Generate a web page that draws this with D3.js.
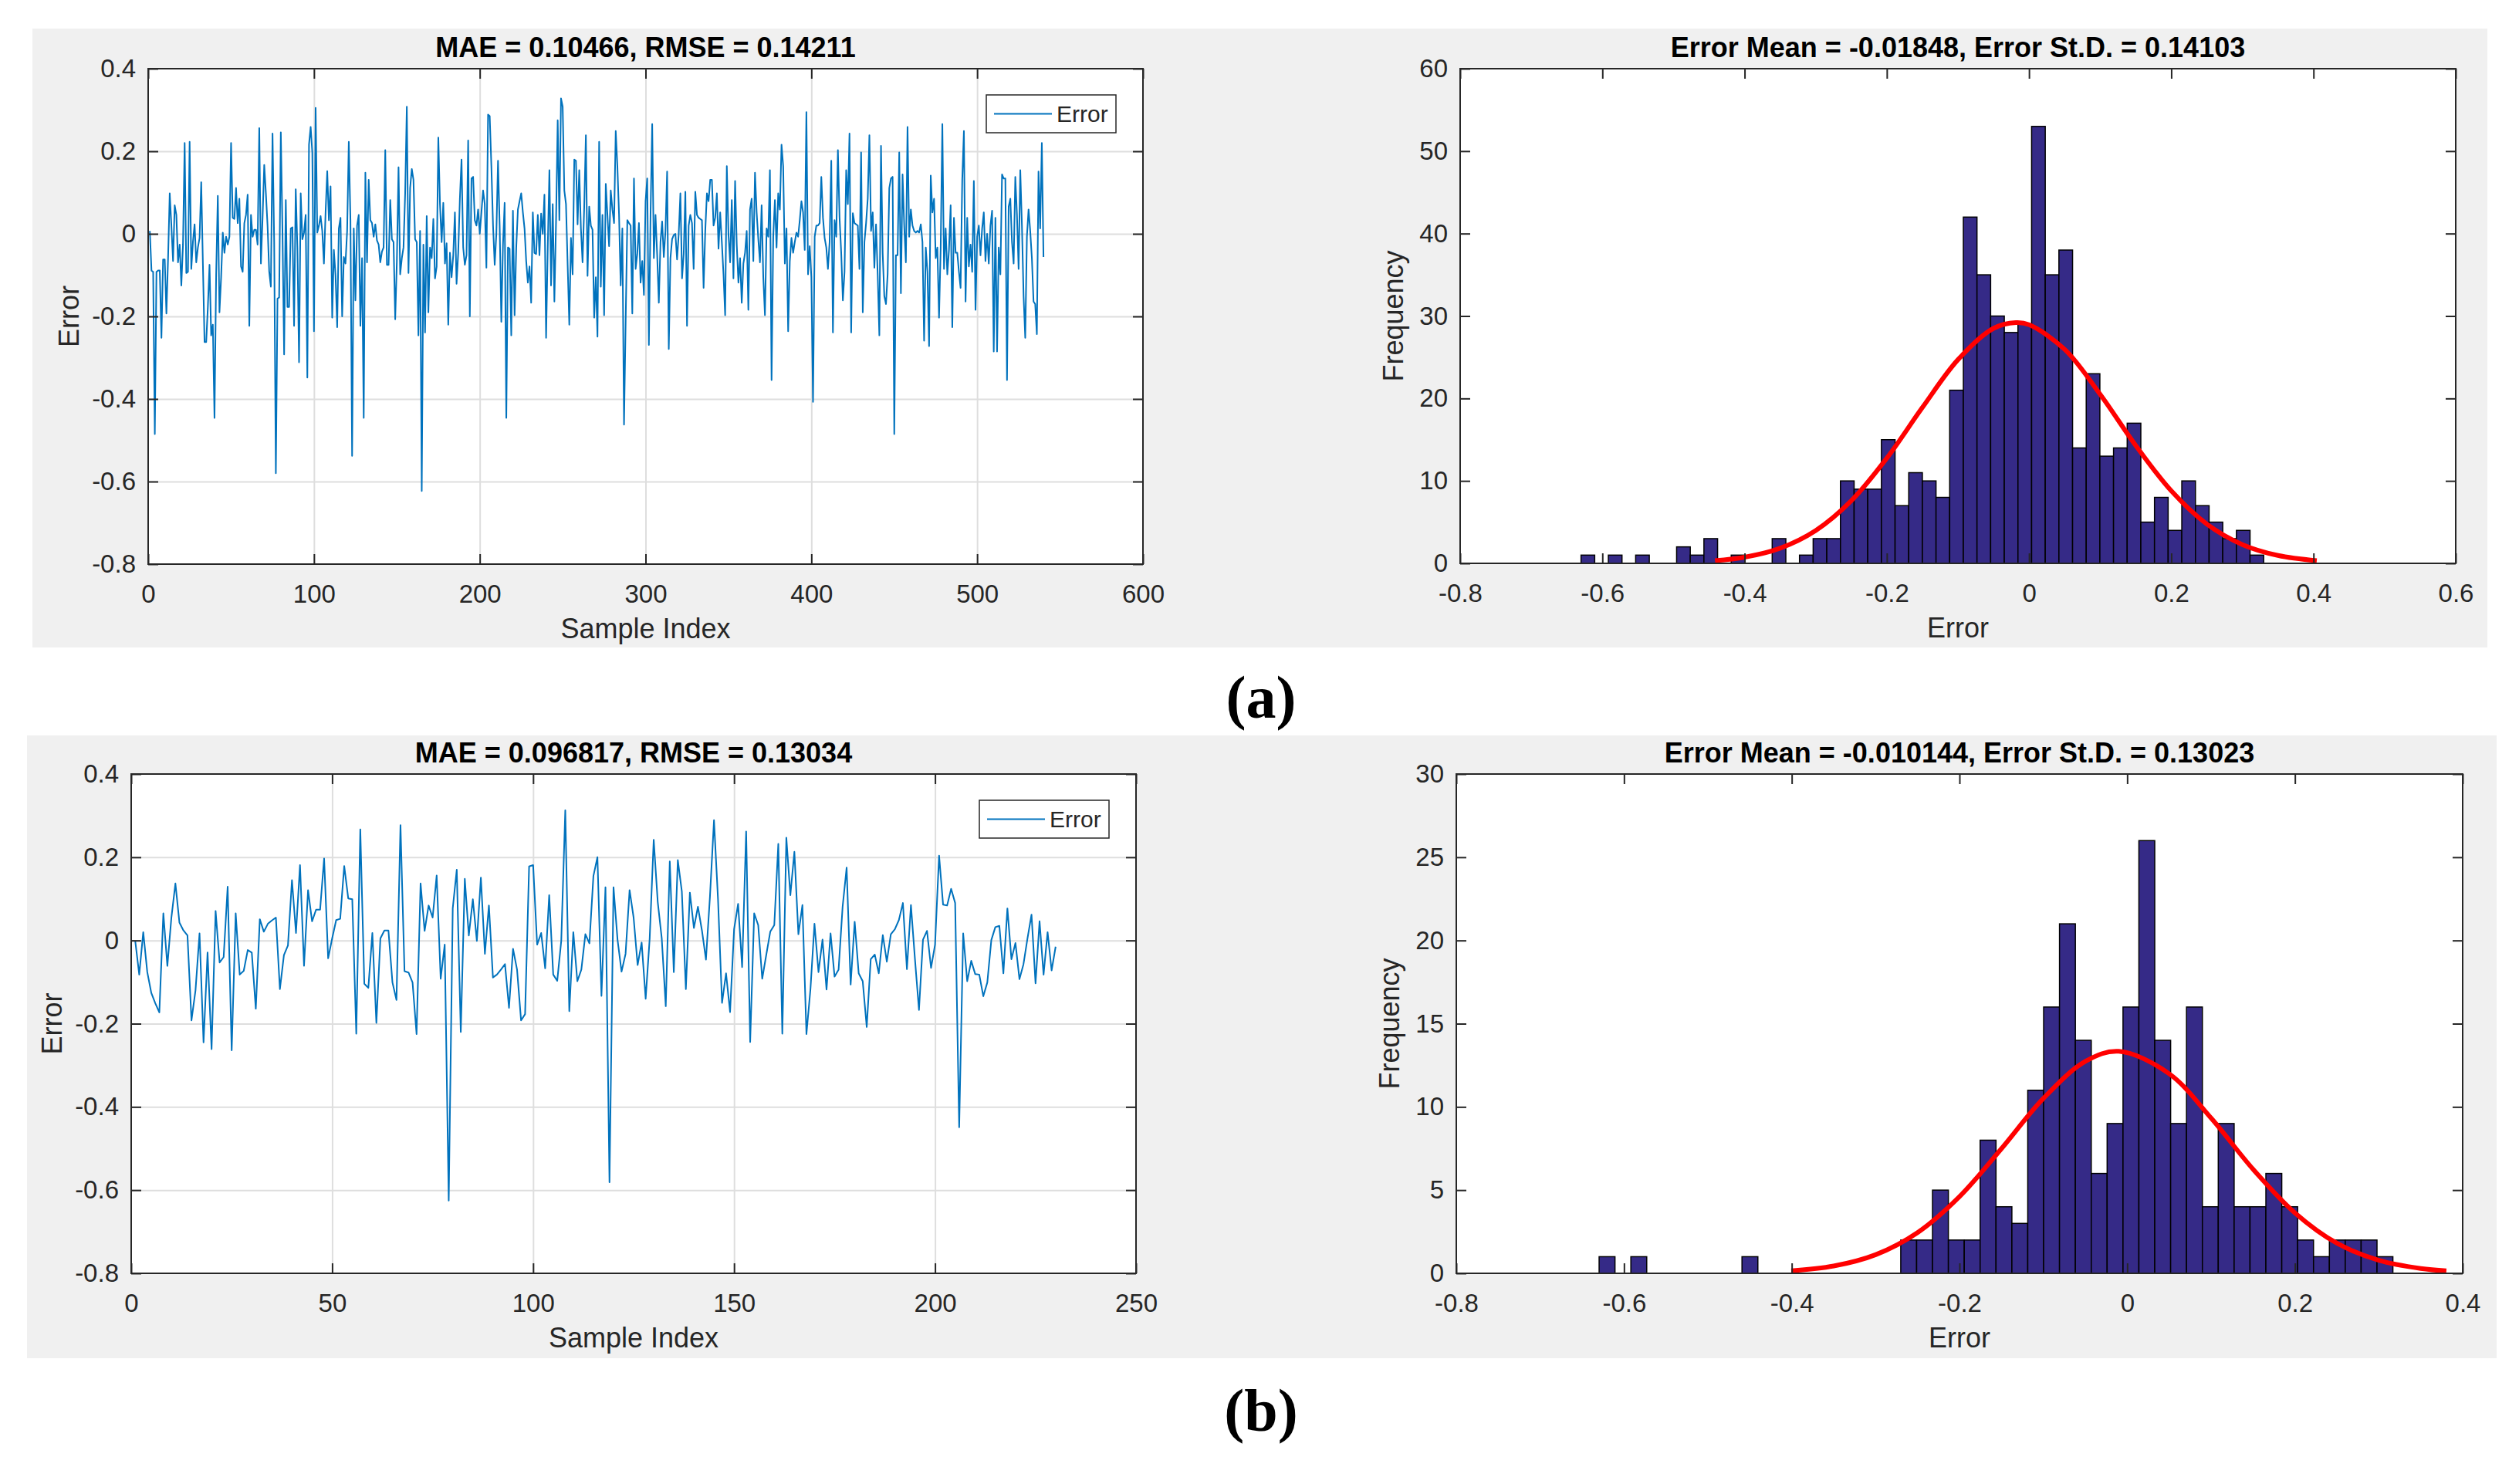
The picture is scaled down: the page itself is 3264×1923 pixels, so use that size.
<!DOCTYPE html>
<html>
<head>
<meta charset="utf-8">
<script src="https://cdn.jsdelivr.net/npm/d3@7"></script>
<style>
  body { margin: 0; background: #fff; }
  text { font-family: Arial, "Liberation Sans", Helvetica, sans-serif; }
  text.caption { font-family: "Liberation Serif", "DejaVu Serif", serif; font-weight: bold; }
</style>
</head>
<body>
<svg id="fig" width="3264" height="1923"></svg>
<script>
// ---- data ----
const errA = [
  0.007,-0.089,-0.092,-0.485,-0.092,-0.089,-0.089,-0.252,-0.062,-0.062,-0.193,-0.059,0.098,0.020,-0.066,0.069,0.046,-0.069,-0.026,-0.125,
  -0.026,0.220,-0.095,-0.092,0.223,-0.085,-0.020,0.023,-0.069,-0.033,-0.010,
  0.125,-0.072,-0.262,-0.262,-0.177,-0.075,-0.246,-0.220,-0.446,-0.098,0.092,-0.190,-0.105,0.003,-0.046,-0.007,-0.026,-0.007,0.220,0.039,
  0.036,0.111,0.026,0.085,-0.079,-0.092,0.026,0.046,0.095,-0.223,0.046,-0.007,0.010,0.010,-0.026,0.256,-0.072,0.039,0.167,0.098,0.020,
  -0.092,-0.128,0.243,-0.020,-0.580,-0.157,-0.154,0.246,0.007,-0.292,0.082,-0.177,-0.177,0.013,0.016,-0.223,0.108,-0.033,-0.311,0.098,
  -0.013,0.003,0.046,-0.348,0.216,0.259,0.197,-0.236,0.305,0.003,0.020,0.043,0.007,-0.072,0.052,0.152,0.033,0.115,-0.203,-0.039,-0.100,
  -0.226,0.013,0.039,-0.200,-0.056,-0.072,0.007,0.223,0.033,-0.538,0.013,-0.161,0.020,0.046,-0.223,-0.059,-0.446,0.148,-0.069,0.131,0.033,
  0.026,-0.007,0.023,-0.016,-0.026,-0.069,-0.043,-0.033,0.203,-0.075,-0.075,0.082,-0.013,-0.020,-0.207,-0.066,0.161,-0.098,-0.059,-0.033,
  0.098,0.308,-0.095,0.111,0.157,0.131,-0.013,-0.020,-0.246,0.007,-0.623,-0.026,-0.239,0.043,-0.190,-0.033,-0.059,0.036,-0.108,-0.079,
  0.233,0.072,-0.020,0.075,-0.072,-0.023,-0.220,-0.046,-0.105,-0.052,0.052,-0.121,-0.046,0.085,0.180,-0.033,-0.075,-0.052,0.226,-0.200,
  0.134,0.138,0.033,0.020,0.059,0.000,0.052,0.105,0.072,-0.082,0.289,0.285,0.164,0.020,-0.075,0.000,0.177,0.020,-0.213,-0.026,
  0.075,-0.446,-0.033,-0.036,-0.246,0.056,-0.197,-0.033,0.059,0.079,0.098,0.052,0.013,-0.066,-0.118,-0.079,-0.167,0.052,-0.046,-0.049,
  0.046,-0.052,0.049,0.000,0.095,-0.252,-0.033,0.154,-0.125,0.072,-0.164,0.030,0.275,0.033,0.328,0.308,0.105,0.072,-0.075,-0.220,
  -0.010,-0.098,0.180,0.177,0.023,0.154,0.013,-0.069,0.066,0.239,-0.102,0.066,0.020,0.010,-0.203,
  -0.105,-0.249,0.223,-0.128,0.046,-0.197,0.121,0.046,-0.030,0.105,0.059,0.026,0.249,0.164,0.046,-0.125,0.013,-0.462,-0.210,0.033,
  0.026,0.020,-0.193,0.134,-0.085,-0.049,0.026,-0.118,-0.066,-0.148,0.079,0.134,-0.269,0.046,0.266,-0.059,0.046,-0.052,-0.167,-0.020,
  0.030,-0.056,0.007,0.151,-0.279,-0.059,-0.013,-0.003,0.000,-0.062,0.000,0.098,-0.108,-0.049,0.102,-0.223,0.020,0.046,0.026,-0.085,
  0.102,0.046,0.039,0.036,0.033,-0.131,0.007,0.098,0.079,0.131,0.131,0.020,0.039,0.098,-0.036,0.052,-0.020,-0.098,-0.197,0.164,
  0.000,-0.069,0.082,-0.108,0.128,-0.026,-0.118,-0.059,-0.167,-0.072,-0.046,0.007,-0.184,0.059,0.085,-0.066,0.148,0.052,-0.013,-0.069,
  0.069,-0.105,-0.197,0.013,-0.007,0.154,-0.354,-0.007,0.082,-0.033,0.098,0.059,0.216,0.164,-0.072,0.013,-0.236,-0.066,-0.010,-0.046,
  -0.020,0.003,-0.007,0.033,0.079,0.052,-0.039,0.295,-0.098,-0.030,-0.105,-0.407,-0.007,0.020,
  0.020,0.026,0.138,0.039,-0.010,-0.033,-0.085,-0.020,0.177,-0.239,0.033,-0.007,0.203,0.039,-0.046,-0.161,-0.092,0.154,0.072,0.243,-0.239,0.050,
  0.026,0.023,0.020,-0.085,0.197,-0.190,-0.020,0.026,0.085,0.239,0.007,0.052,-0.082,0.023,-0.098,-0.246,0.213,-0.046,-0.151,-0.170,
  -0.098,0.111,0.134,0.138,-0.485,-0.052,-0.052,0.197,-0.144,0.144,0.020,-0.069,0.259,-0.007,0.059,0.020,0.007,0.003,0.007,0.003,0.023,
  -0.020,-0.259,-0.033,-0.092,-0.272,0.141,0.052,0.085,-0.059,-0.033,-0.203,-0.033,0.266,-0.085,0.013,-0.098,-0.039,0.069,-0.226,0.039,
  -0.046,-0.046,-0.092,-0.131,0.131,0.249,-0.164,0.039,-0.079,-0.026,-0.092,0.128,-0.184,-0.007,0.020,-0.052,0.013,0.052,-0.066,0.000,
  -0.072,0.020,0.056,-0.285,0.039,-0.285,-0.033,-0.098,0.144,0.134,0.134,-0.354,0.066,0.085,-0.020,-0.072,0.138,0.046,-0.085,0.154,
  0.020,-0.151,-0.252,-0.007,0.059,0.007,-0.059,-0.164,-0.170,-0.243,0.151,0.013,0.220,-0.056
];

const errB = [
  -0.001,-0.082,0.020,-0.076,-0.126,-0.151,-0.173,0.065,-0.061,0.055,0.137,0.043,0.024,0.012,-0.192,-0.120,0.017,-0.245,-0.029,-0.261,
  0.071,-0.053,-0.040,0.129,-0.264,0.065,-0.082,-0.073,-0.023,-0.029,-0.164,0.051,0.021,0.040,0.048,0.055,-0.117,-0.035,-0.012,0.145,
  0.018,0.181,-0.061,0.121,0.046,0.074,0.074,0.197,-0.043,0.005,0.049,0.052,0.179,0.101,0.099,-0.224,0.267,-0.104,-0.114,0.018,
  -0.198,0.005,0.024,0.024,-0.101,-0.143,0.277,-0.074,-0.077,-0.101,-0.225,0.137,0.023,0.084,0.055,0.156,-0.092,-0.010,-0.625,0.077,
  0.170,-0.220,0.148,0.012,0.099,-0.001,0.151,-0.032,0.084,-0.089,-0.082,-0.070,-0.057,-0.162,-0.020,-0.070,-0.192,-0.177,0.178,0.181,
  -0.010,0.018,-0.067,0.109,-0.082,-0.097,-0.001,0.313,-0.170,0.020,-0.098,-0.070,0.015,-0.007,0.155,0.200,
  -0.133,0.128,-0.581,0.128,0.002,-0.075,-0.032,0.121,0.055,-0.059,-0.005,-0.140,0.005,0.242,0.093,0.005,-0.158,0.190,-0.076,0.193,
  0.118,-0.117,0.115,0.030,0.081,0.024,-0.046,0.106,0.289,0.099,-0.150,-0.079,-0.172,0.027,0.088,-0.064,0.262,-0.244,0.065,0.037,
  -0.092,-0.035,0.021,0.037,0.232,-0.224,0.247,0.109,0.213,0.015,0.085,-0.225,-0.117,0.040,-0.076,0.002,-0.118,0.017,-0.087,-0.070,
  0.081,0.175,-0.106,0.045,-0.079,-0.098,-0.208,-0.045,-0.034,-0.079,0.013,-0.051,0.015,0.027,0.049,0.090,-0.069,0.085,-0.045,-0.167,
  0.002,0.023,-0.066,-0.010,0.204,0.086,0.084,0.124,0.090,-0.449,0.017,-0.098,-0.049,-0.081,-0.082,-0.134,-0.101,0.001,0.032,0.035,
  -0.079,0.077,-0.045,-0.006,-0.093,-0.057,0.005,0.062,-0.103,0.046,-0.082,0.020,-0.072,-0.015
];

// histogram bins (50 bins each)
const binStartA = -0.630, binWidthA = 0.0192;
const countsA = [1,0,1,0,1,0,0,2,1,3, 0,1,0,0,3,0,1,3,3,10, 9,9,15,7,11,10,8,21,42,35,
                 30,28,29,53,35,38,14,23,13,14, 17,5,8,4,10,7,5,3,4,1];
const binStartB = -0.6297, binWidthB = 0.01893;
const countsB = [1,0,1,0,0,0,0,0,0,1, 0,0,0,0,0,0,0,0,0,2, 2,5,2,2,8,4,3,11,16,21,
                 14,6,9,16,26,14,9,16,4,9, 4,4,6,4,2,1,2,2,2,1];

// fitted normal curves, read at these error values
const fitAx = [-0.4416,-0.40,-0.35,-0.30,-0.25,-0.20,-0.15,-0.10,-0.05,-0.0185,0.00,0.05,0.10,0.15,0.20,0.25,0.30,0.35,0.4046];
const fitAy = [0.32,0.75,1.84,3.98,7.59,12.76,18.9,24.7,28.5,29.2,28.95,25.96,20.5,14.3,8.79,4.76,2.28,0.96,0.33];
const fitBx = [-0.4006,-0.35,-0.30,-0.25,-0.20,-0.15,-0.10,-0.05,-0.0101,0.05,0.10,0.15,0.20,0.25,0.30,0.35,0.3806];
const fitBy = [0.15,0.44,1.12,2.45,4.61,7.49,10.51,12.73,13.34,11.99,9.33,6.26,3.63,1.81,0.78,0.29,0.15];

// ticks
const errTicks = [-0.8,-0.6,-0.4,-0.2,0,0.2,0.4];
const sampleTicksA = [0,100,200,300,400,500,600];
const sampleTicksB = [0,50,100,150,200,250];
const histXTicksA = [-0.8,-0.6,-0.4,-0.2,0,0.2,0.4,0.6];
const histXTicksB = [-0.8,-0.6,-0.4,-0.2,0,0.2,0.4];
const freqTicksA = [0,10,20,30,40,50,60];
const freqTicksB = [0,5,10,15,20,25,30];

const titles = {
  lineA: "MAE = 0.10466, RMSE = 0.14211",
  histA: "Error Mean = -0.01848, Error St.D. = 0.14103",
  lineB: "MAE = 0.096817, RMSE = 0.13034",
  histB: "Error Mean = -0.010144, Error St.D. = 0.13023"
};

// ---- drawing ----
const svg = d3.select("#fig");
const INK = "#262626";
const fmt = d => String(d);

svg.append("rect").attr("x", 42).attr("y", 37).attr("width", 3181).attr("height", 802).attr("fill", "#f0f0f0");
svg.append("rect").attr("x", 35).attr("y", 953).attr("width", 3200).attr("height", 807).attr("fill", "#f0f0f0");

const axesGrid = (g, box, x, y, xTicks, yTicks) => {
  const w = box.x1 - box.x0, h = box.y1 - box.y0;
  g.append("g").attr("transform", `translate(0,${box.y1})`)
    .call(d3.axisBottom(x).tickValues(xTicks.slice(1, -1)).tickSize(-h).tickFormat(""))
    .call(s => s.select(".domain").remove())
    .selectAll("line").attr("stroke", "#dedede").attr("stroke-width", 2);
  g.append("g").attr("transform", `translate(${box.x0},0)`)
    .call(d3.axisLeft(y).tickValues(yTicks.slice(1, -1)).tickSize(-w).tickFormat(""))
    .call(s => s.select(".domain").remove())
    .selectAll("line").attr("stroke", "#dedede").attr("stroke-width", 2);
};

const axesTicks = (g, box, x, y, xTicks, yTicks) => {
  const style = s => {
    s.select(".domain").remove();
    s.attr("font-size", 33).attr("color", INK);
    s.selectAll("line").attr("stroke-width", 2);
  };
  g.append("g").attr("transform", `translate(0,${box.y1})`)
    .call(d3.axisBottom(x).tickValues(xTicks).tickSize(-13).tickPadding(27).tickFormat(fmt)).call(style);
  g.append("g").attr("transform", `translate(0,${box.y0})`)
    .call(d3.axisTop(x).tickValues(xTicks).tickSize(-13).tickFormat("")).call(style);
  g.append("g").attr("transform", `translate(${box.x0},0)`)
    .call(d3.axisLeft(y).tickValues(yTicks).tickSize(-13).tickPadding(16).tickFormat(fmt)).call(style);
  g.append("g").attr("transform", `translate(${box.x1},0)`)
    .call(d3.axisRight(y).tickValues(yTicks).tickSize(-13).tickFormat("")).call(style);
  g.append("rect")
    .attr("x", box.x0).attr("y", box.y0)
    .attr("width", box.x1 - box.x0).attr("height", box.y1 - box.y0)
    .attr("fill", "none").attr("stroke", INK).attr("stroke-width", 2);
};

const labels = (g, box, title, xLabel, yLabel, yLabelGap) => {
  const cx = (box.x0 + box.x1) / 2, cy = (box.y0 + box.y1) / 2;
  g.append("text").attr("x", cx).attr("y", box.y0 - 15)
    .attr("text-anchor", "middle").attr("font-size", 36).attr("font-weight", "bold")
    .attr("fill", "#000").text(title);
  g.append("text").attr("x", cx).attr("y", box.y1 + 96)
    .attr("text-anchor", "middle").attr("font-size", 36).attr("fill", INK).text(xLabel);
  g.append("text").attr("transform", `translate(${box.x0 - yLabelGap},${cy}) rotate(-90)`)
    .attr("text-anchor", "middle").attr("font-size", 36).attr("fill", INK).text(yLabel);
};

const drawLine = (box, data, xMax, xTicks, title) => {
  const g = svg.append("g");
  const x = d3.scaleLinear().domain([0, xMax]).range([box.x0, box.x1]);
  const y = d3.scaleLinear().domain([-0.8, 0.4]).range([box.y1, box.y0]);
  g.append("rect").attr("x", box.x0).attr("y", box.y0)
    .attr("width", box.x1 - box.x0).attr("height", box.y1 - box.y0).attr("fill", "#fff");
  axesGrid(g, box, x, y, xTicks, errTicks);

  const line = d3.line().x((d, i) => x(i + 1)).y(d => y(d));
  g.append("path").datum(data)
    .attr("d", line).attr("fill", "none")
    .attr("stroke", "#0072bd").attr("stroke-width", 2).attr("stroke-linejoin", "round");

  axesTicks(g, box, x, y, xTicks, errTicks);
  labels(g, box, title, "Sample Index", "Error", 90);

  // legend
  const lw = 168, lh = 49;
  const lx = box.x1 - 35 - lw, ly = box.y0 + 34;
  g.append("rect").attr("x", lx).attr("y", ly).attr("width", lw).attr("height", lh)
    .attr("fill", "#fff").attr("stroke", INK).attr("stroke-width", 1.5);
  g.append("line").attr("x1", lx + 10).attr("x2", lx + 85)
    .attr("y1", ly + lh / 2).attr("y2", ly + lh / 2)
    .attr("stroke", "#0072bd").attr("stroke-width", 2);
  g.append("text").attr("x", lx + 91).attr("y", ly + lh / 2).attr("dy", "0.35em")
    .attr("font-size", 30).attr("fill", INK).text("Error");
};

const drawHist = (box, counts, binStart, binWidth, fitX, fitY, xDomain, xTicks, yMax, yTicks, title) => {
  const g = svg.append("g");
  const x = d3.scaleLinear().domain(xDomain).range([box.x0, box.x1]);
  const y = d3.scaleLinear().domain([0, yMax]).range([box.y1, box.y0]);
  g.append("rect").attr("x", box.x0).attr("y", box.y0)
    .attr("width", box.x1 - box.x0).attr("height", box.y1 - box.y0).attr("fill", "#fff");

  g.append("g").selectAll("rect")
    .data(counts.map((c, i) => ({ c, lo: binStart + i * binWidth, hi: binStart + (i + 1) * binWidth })).filter(d => d.c > 0))
    .enter().append("rect")
    .attr("x", d => x(d.lo))
    .attr("width", d => x(d.hi) - x(d.lo))
    .attr("y", d => y(d.c))
    .attr("height", d => y(0) - y(d.c))
    .attr("fill", "#352a87")
    .attr("stroke", "#000").attr("stroke-width", 1.5);

  const curve = d3.line().x(d => x(d[0])).y(d => y(d[1])).curve(d3.curveCatmullRom);
  g.append("path").datum(fitX.map((v, i) => [v, fitY[i]]))
    .attr("d", curve).attr("fill", "none")
    .attr("stroke", "#ff0000").attr("stroke-width", 6).attr("stroke-linejoin", "round");

  axesTicks(g, box, x, y, xTicks, yTicks);
  labels(g, box, title, "Error", "Frequency", 74);
};

drawLine({ x0: 192, x1: 1481, y0: 89, y1: 731 }, errA, 600, sampleTicksA, titles.lineA);
drawHist({ x0: 1892, x1: 3182, y0: 89, y1: 730 }, countsA, binStartA, binWidthA, fitAx, fitAy,
  [-0.8, 0.6], histXTicksA, 60, freqTicksA, titles.histA);
drawLine({ x0: 170, x1: 1472, y0: 1003, y1: 1650 }, errB, 250, sampleTicksB, titles.lineB);
drawHist({ x0: 1887, x1: 3191, y0: 1003, y1: 1650 }, countsB, binStartB, binWidthB, fitBx, fitBy,
  [-0.8, 0.4], histXTicksB, 30, freqTicksB, titles.histB);

// panel captions
svg.append("text").attr("class", "caption").attr("x", 1634).attr("y", 930)
  .attr("text-anchor", "middle").attr("font-size", 78).attr("fill", "#000").text("(a)");
svg.append("text").attr("class", "caption").attr("x", 1634).attr("y", 1854)
  .attr("text-anchor", "middle").attr("font-size", 78).attr("fill", "#000").text("(b)");
</script>
</body>
</html>
